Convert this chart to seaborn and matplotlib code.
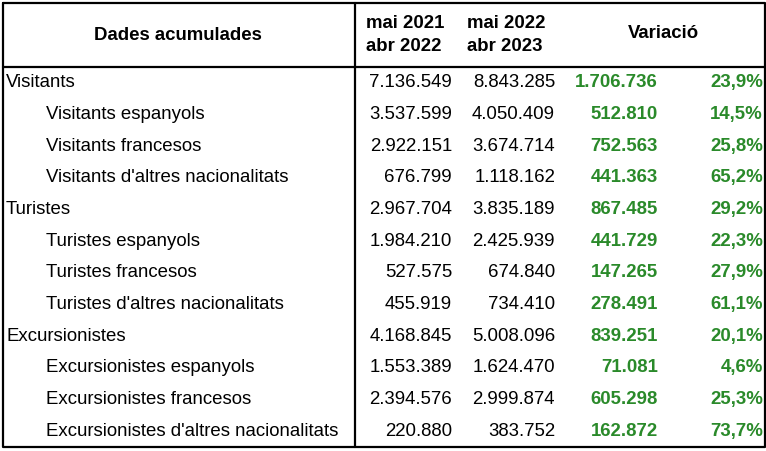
import numpy as np
import matplotlib
matplotlib.use("Agg")
import matplotlib.pyplot as plt
import seaborn as sns

sns.set_style("white")
plt.rcParams['font.family'] = ['Liberation Sans', 'DejaVu Sans']
plt.rcParams['text.color'] = 'black'

# table data
labels = ["Visitants", "Visitants espanyols", "Visitants francesos",
          "Visitants d'altres nacionalitats", "Turistes", "Turistes espanyols",
          "Turistes francesos", "Turistes d'altres nacionalitats", "Excursionistes",
          "Excursionistes espanyols", "Excursionistes francesos",
          "Excursionistes d'altres nacionalitats"]
is_sub = [False, True, True, True, False, True, True, True, False, True, True, True]
period1 = ["7.136.549", "3.537.599", "2.922.151", "676.799", "2.967.704", "1.984.210",
           "527.575", "455.919", "4.168.845", "1.553.389", "2.394.576", "220.880"]
period2 = ["8.843.285", "4.050.409", "3.674.714", "1.118.162", "3.835.189", "2.425.939",
           "674.840", "734.410", "5.008.096", "1.624.470", "2.999.874", "383.752"]
var_abs = ["1.706.736", "512.810", "752.563", "441.363", "867.485", "441.729",
           "147.265", "278.491", "839.251", "71.081", "605.298", "162.872"]
var_pct = ["23,9%", "14,5%", "25,8%", "65,2%", "29,2%", "22,3%",
           "27,9%", "61,1%", "20,1%", "4,6%", "25,3%", "73,7%"]
header_cols = ["Dades acumulades", "mai 2021\nabr 2022", "mai 2022\nabr 2023", "Variació"]

W, H = 766, 451
fig = plt.figure(figsize=(W / 100, H / 100), dpi=100)
ax = fig.add_axes([0, 0, 1, 1])
ax.set_xlim(0, W)
ax.set_ylim(H, 0)
ax.axis("off")

green = "#2a8a2a"
fs = 13.4
top, head_bot, bottom = 3, 67, 447
left, right, vsep = 3, 765, 355
row_h = (bottom - head_bot) / len(labels)

# borders
lw = 1.6
ax.plot([left, right, right, left, left], [top, top, bottom, bottom, top], color="black", lw=lw)
ax.plot([left, right], [head_bot, head_bot], color="black", lw=lw)
ax.plot([vsep, vsep], [top, bottom], color="black", lw=lw)

# header
ax.text(178, 35, header_cols[0], ha="center", va="center", fontsize=fs, fontweight="bold")
ax.text(366, 35, header_cols[1], ha="left", va="center", fontsize=fs, fontweight="bold", linespacing=1.4)
ax.text(467, 35, header_cols[2], ha="left", va="center", fontsize=fs, fontweight="bold", linespacing=1.4)
ax.text(663, 33, header_cols[3], ha="center", va="center", fontsize=fs, fontweight="bold")

# rows
for i, lab in enumerate(labels):
    y = head_bot + row_h * (i + 0.5)
    ax.text(46 if is_sub[i] else 6, y, lab, ha="left", va="center", fontsize=fs, color="black")
    ax.text(452, y, period1[i], ha="right", va="center", fontsize=fs, color="black")
    ax.text(555, y, period2[i], ha="right", va="center", fontsize=fs, color="black")
    ax.text(658, y, var_abs[i], ha="right", va="center", fontsize=fs, fontweight="bold", color=green)
    ax.text(763, y, var_pct[i], ha="right", va="center", fontsize=fs, fontweight="bold", color=green)

fig.savefig("out.png", dpi=100)
